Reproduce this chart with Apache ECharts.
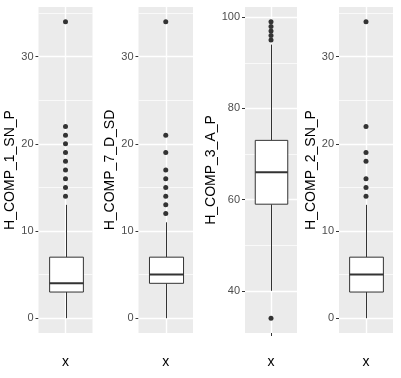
<!DOCTYPE html>
<html>
<head>
<meta charset="utf-8">
<script src="https://cdn.jsdelivr.net/npm/echarts@6/dist/echarts.min.js"></script>
<style>
html,body{margin:0;padding:0;background:#fff;}
#main{width:401px;height:378px;}
</style>
</head>
<body>
<div id="main"></div>
<script>
var names = ['H_COMP_1_SN_P', 'H_COMP_7_D_SD', 'H_COMP_3_A_P', 'H_COMP_2_SN_P'];
var xTitle = 'x';
var cats = [''];
// lower whisker, q1, median, q3, upper whisker
var box1 = [0, 3, 4, 7, 13];
var box2 = [0, 4, 5, 7, 11];
var box3 = [40, 59, 66, 73, 94];
var box4 = [0, 3, 5, 7, 13];
var out1 = [14, 15, 16, 17, 18, 19, 20, 21, 22, 34];
var out2 = [12, 13, 14, 15, 16, 17, 19, 21, 34];
var out3 = [34, 95, 96, 97, 98, 99];
var out4 = [14, 15, 16, 18, 19, 22, 34];
var ticks1 = [0, 10, 20, 30];
var minor1 = [5, 15, 25, 35];
var ticks3 = [40, 60, 80, 100];
var minor3 = [50, 70, 90];

var boxes = [box1, box2, box3, box4];
var outs = [out1, out2, out3, out4];
var majors = [ticks1, ticks1, ticks3, ticks1];
var minors = [minor1, minor1, minor3, minor1];

// panel placement
var lefts = [38.5, 138.5, 245, 339];
var widths = [54, 54.5, 52, 54];
var font = 'Liberation Sans, Arial, sans-serif';

function renderBox(params, api){
	var c = api.value(0);
	var lo = api.coord([c, api.value(1)]);
	var q1 = api.coord([c, api.value(2)]);
	var md = api.coord([c, api.value(3)]);
	var q3 = api.coord([c, api.value(4)]);
	var hi = api.coord([c, api.value(5)]);
	var half = api.size([1, 0])[0] * 0.625 / 2;
	var x = Math.round(lo[0]) + 0.5;
	var st = {stroke: '#333333', lineWidth: 1};
	return {
		type: 'group',
		children: [
			{type: 'line', shape: {x1: x, y1: lo[1], x2: x, y2: q1[1]}, style: st},
			{type: 'line', shape: {x1: x, y1: q3[1], x2: x, y2: hi[1]}, style: st},
			{type: 'rect', shape: {x: x - half, y: q3[1], width: half * 2, height: q1[1] - q3[1]},
				style: {fill: '#ffffff', stroke: '#333333', lineWidth: 1}},
			{type: 'line', shape: {x1: x - half, y1: md[1], x2: x + half, y2: md[1]},
				style: {stroke: '#333333', lineWidth: 2}}
		]
	};
}

var grid = [], xAxis = [], yAxis = [], series = [];
for (var i = 0; i < 4; i++) {
	// ggplot style range: data span plus 5% each side
	var all = boxes[i].concat(outs[i]);
	var lo = Math.min.apply(null, all), hi = Math.max.apply(null, all);
	var pad = (hi - lo) * 0.05;

	grid.push({
		left: lefts[i], width: widths[i], top: 7, height: 326,
		show: true, backgroundColor: '#EBEBEB', borderWidth: 0
	});
	xAxis.push({
		type: 'category', gridIndex: i, data: cats,
		axisLine: {show: false},
		axisTick: {show: true, alignWithLabel: true, length: 3, lineStyle: {color: '#333333'}},
		axisLabel: {show: true},
		splitLine: {show: false},
		name: xTitle, nameLocation: 'middle', nameGap: 22,
		nameTextStyle: {color: '#000000', fontSize: 14, fontFamily: font}
	});
	yAxis.push({
		type: 'value', gridIndex: i, min: lo - pad, max: hi + pad,
		axisLine: {show: false},
		axisTick: {show: true, length: 3, customValues: majors[i], lineStyle: {color: '#333333'}},
		axisLabel: {customValues: majors[i], color: '#4D4D4D', fontSize: 11, margin: 5, fontFamily: font},
		splitLine: {show: false},
		name: names[i], nameLocation: 'middle', nameGap: 20,
		nameTextStyle: {color: '#000000', fontSize: 14, fontFamily: font}
	});

	var lines = [{xAxis: 0, lineStyle: {width: 1.4}}];
	for (var m = 0; m < majors[i].length; m++) {
		lines.push({yAxis: majors[i][m], lineStyle: {width: 1.4}});
	}
	for (var n = 0; n < minors[i].length; n++) {
		lines.push({yAxis: minors[i][n], lineStyle: {width: 0.7}});
	}

	series.push({
		type: 'custom', xAxisIndex: i, yAxisIndex: i, z: 2,
		renderItem: renderBox,
		encode: {x: 0, y: [1, 2, 3, 4, 5]},
		data: [[0].concat(boxes[i])]
	});
	series.push({
		type: 'scatter', xAxisIndex: i, yAxisIndex: i, z: 3,
		symbolSize: 5,
		itemStyle: {color: '#333333', opacity: 1},
		data: outs[i].map(function(v){ return [0, v]; }),
		markLine: {
			z: 1, silent: true, symbol: 'none', label: {show: false},
			lineStyle: {color: '#ffffff', type: 'solid'},
			data: lines
		}
	});
}

var chart = echarts.init(document.getElementById('main'));
chart.setOption({
	animation: false,
	grid: grid,
	xAxis: xAxis,
	yAxis: yAxis,
	series: series
});
</script>
</body>
</html>
